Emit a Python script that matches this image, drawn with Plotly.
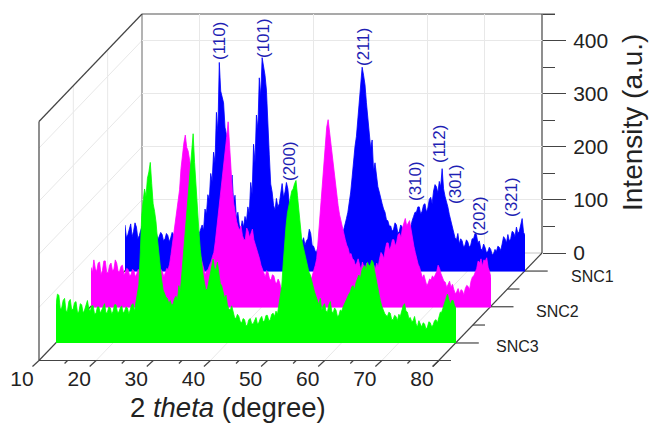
import plotly.graph_objects as go

snc1 = [88,64,70,82,90,66,76,92,84,62,68,78,86,64,72,94,92,66,70,80,
        68,76,72,60,66,74,70,58,62,72,68,56,64,74,70,60,62,70,66,58,
        64,72,68,58,60,70,66,56,62,72,68,60,72,80,88,78,118,108,145,136,
        185,170,225,205,300,262,394,340,330,318,272,258,215,226,170,182,130,144,100,112,
        88,78,96,84,104,94,122,110,168,146,240,205,295,268,365,330,403,385,370,342,
        262,220,165,150,125,116,138,122,128,146,166,140,150,168,156,128,132,118,110,96,
        84,92,70,62,56,64,50,58,62,80,72,50,48,40,36,46,52,38,42,50,
        50,40,46,58,56,44,62,52,54,70,68,56,66,78,86,100,112,130,150,178,
        210,236,255,290,320,358,385,370,352,318,285,262,232,248,190,205,178,160,150,136,
        128,118,112,98,96,86,86,76,80,92,88,72,76,88,84,70,74,86,84,72,
        88,96,104,112,112,122,122,108,114,126,128,112,120,136,140,128,152,164,160,148,
        170,160,194,156,142,134,122,108,96,84,72,64,60,72,52,62,58,46,50,60,
        56,46,50,62,62,72,70,54,58,44,40,52,46,36,38,46,42,32,34,42,
        38,48,46,40,52,66,62,54,70,58,62,76,74,66,84,72,76,92,100,74,
        69]
snc2 = [76,66,90,74,68,84,86,62,70,88,88,66,66,80,84,70,72,90,84,68,
        68,78,80,62,66,74,72,60,62,72,70,58,64,72,70,60,66,74,72,62,
        66,74,72,60,64,72,70,58,62,72,68,58,66,74,72,82,100,120,140,165,
        190,206,222,262,290,310,325,302,295,280,262,236,205,178,150,122,104,92,80,70,
        62,70,72,80,86,96,104,124,148,170,192,222,250,272,295,322,350,300,245,218,
        195,176,162,152,146,154,136,128,128,150,144,132,140,148,128,120,112,102,92,80,
        72,64,58,70,66,54,52,62,60,48,46,54,48,36,38,50,46,34,38,48,
        44,34,38,46,44,34,36,46,42,36,40,48,46,40,52,60,70,80,92,128,
        170,208,245,280,318,340,354,330,310,288,260,240,215,192,175,162,152,138,128,118,
        112,100,102,92,90,80,84,92,78,70,86,76,74,84,80,72,76,84,80,72,
        84,76,92,104,100,92,110,122,122,108,116,128,128,116,124,138,140,132,150,158,
        168,154,158,164,148,130,116,104,92,82,76,66,56,62,50,42,46,54,52,60,
        56,62,68,80,74,64,56,50,48,38,44,50,38,44,34,26,30,36,26,34,
        32,24,36,42,40,34,50,58,60,68,74,88,84,92,78,90,88,94,76,68,
        56]
snc3 = [72,92,90,64,66,80,84,60,60,78,82,62,64,76,78,58,58,74,72,56,
        62,74,80,64,60,70,70,54,56,68,68,56,62,70,74,56,58,68,66,54,
        60,72,72,58,58,66,70,56,60,68,66,54,62,72,74,60,78,94,110,170,
        240,268,290,276,310,322,340,300,262,248,228,196,168,144,118,100,92,86,84,74,
        80,70,74,84,88,80,108,96,128,160,205,236,268,290,318,352,394,340,290,246,
        212,176,150,128,112,100,102,116,130,146,158,138,140,152,125,112,108,92,84,90,
        72,64,62,70,58,48,46,54,50,40,38,46,44,32,34,44,46,36,36,44,
        48,36,38,46,50,40,42,52,52,42,44,54,56,50,60,54,72,84,106,148,
        190,220,245,262,272,286,290,300,306,278,250,224,195,182,170,156,145,134,128,116,
        108,96,88,80,72,84,62,70,74,60,58,72,78,60,56,66,62,50,52,62,
        60,68,74,82,88,92,96,106,108,100,114,122,128,120,136,142,146,138,152,146,
        146,156,152,136,120,104,92,80,70,62,56,52,50,58,56,44,44,52,50,42,
        54,50,62,70,74,60,58,46,48,40,42,50,36,30,42,34,30,38,36,26,
        30,40,38,30,34,42,44,38,50,58,58,68,74,84,92,84,72,80,80,70,
        66]
assert len(snc1) == len(snc2) == len(snc3) == 281
two_theta = [10 + 0.25 * i for i in range(281)]

series_names = ["SNC1", "SNC2", "SNC3"]
series_values = [snc1, snc2, snc3]
series_colors = ["#0000ff", "#ff00ff", "#00ff00"]
intensity_ticks = [0, 100, 200, 300, 400]
intensity_minor = [50, 150, 250, 350, 450]
angle_ticks = [10, 20, 30, 40, 50, 60, 70, 80]
angle_minor = [15, 25, 35, 45, 55, 65, 75]
grid_angles = [20, 40, 60, 70]
peak_labels = ["(110)", "(101)", "(200)", "(211)", "(310)", "(112)", "(301)", "(202)", "(321)"]

W, H = 649, 424
BACK_L, BACK_R, BACK_TOP, BACK_BASE = 142, 542, 14, 253
FRONT_L, FRONT_BASE = 39, 360.5
PX_PER_100 = (BACK_BASE - BACK_TOP) / 4.5


def fx(px):
    return px / W


def fy(py):
    return 1 - py / H


fig = go.Figure()

shapes = []


def seg(x0, y0, x1, y1, color="#444444", width=1.2):
    shapes.append(dict(type="line", xref="paper", yref="paper", layer="below",
                       x0=fx(x0), y0=fy(y0), x1=fx(x1), y1=fy(y1),
                       line=dict(color=color, width=width)))


GRID = "#e8e8e8"
depth_dx, depth_dy = BACK_L - FRONT_L, FRONT_BASE - BACK_BASE
# left wall
for v in intensity_ticks[1:]:
    py = BACK_BASE - v * PX_PER_100 / 100
    seg(BACK_L, py, FRONT_L, py + depth_dy, GRID, 1)
for f in (1 / 3, 2 / 3):
    px = FRONT_L + depth_dx * f
    seg(px, BACK_TOP + depth_dy * (1 - f), px, FRONT_BASE - depth_dy * f, GRID, 1)
# floor
sx = (BACK_R - BACK_L) / 70
for a in grid_angles:
    seg(FRONT_L + (a - 10) * sx, FRONT_BASE, BACK_L + (a - 10) * sx, BACK_BASE, GRID, 1)
seg(BACK_L, BACK_BASE, BACK_R, BACK_BASE, "#c4c4c4", 1)
# frame
seg(BACK_L, BACK_TOP, BACK_L, BACK_BASE, "#808080", 1.2)
seg(BACK_L, BACK_TOP, BACK_R + 13, BACK_TOP, "#555555", 1.2)
seg(BACK_R, BACK_TOP, BACK_R, BACK_BASE)
seg(BACK_L, BACK_TOP, FRONT_L, BACK_TOP + depth_dy)
seg(FRONT_L, BACK_TOP + depth_dy, FRONT_L, FRONT_BASE)
seg(BACK_L, BACK_BASE, FRONT_L, FRONT_BASE)
seg(FRONT_L, FRONT_BASE, 451, FRONT_BASE)
front_r = FRONT_L + 400
seg(front_r - 6, FRONT_BASE + 6, BACK_R, BACK_BASE)
# slanted angle ticks
for a in angle_ticks:
    px = FRONT_L + (a - 10) * sx
    seg(px, FRONT_BASE, px - 6.5, FRONT_BASE + 6)
for a in angle_minor:
    px = FRONT_L + (a - 10) * sx
    seg(px, FRONT_BASE, px - 3, FRONT_BASE + 3)
# depth ticks
for f, ln in ((0.163, 23), (0.33, 12), (0.5, 23), (0.665, 12), (0.832, 23)):
    seg(front_r + depth_dx * f, FRONT_BASE - depth_dy * f,
        front_r + depth_dx * f + ln, FRONT_BASE - depth_dy * f)

# back wall axes
layout = dict(
    width=W, height=H, margin=dict(l=0, r=0, t=0, b=0, autoexpand=False), autosize=False,
    paper_bgcolor="white", plot_bgcolor="rgba(0,0,0,0)", showlegend=False,
    font=dict(family="Liberation Sans", color="#222222"),
    shapes=shapes,
    xaxis=dict(domain=[fx(BACK_L), fx(BACK_R)], range=[10, 80], anchor="y",
               tickvals=grid_angles, showticklabels=False, ticks="",
               showgrid=True, gridcolor=GRID, gridwidth=1, zeroline=False, showline=False),
    yaxis=dict(domain=[fy(BACK_BASE), fy(BACK_TOP)], range=[0, 450], anchor="x", side="right",
               tickvals=intensity_ticks, ticks="outside", ticklen=23, tickwidth=1.2,
               tickcolor="#444444", tickfont=dict(size=21), ticklabelstandoff=3,
               minor=dict(tickvals=intensity_minor, ticks="outside", ticklen=12,
                          tickwidth=1.2, tickcolor="#444444", showgrid=False),
               showgrid=True, gridcolor=GRID, gridwidth=1, zeroline=False, showline=False),
)
fig.add_trace(go.Scatter(x=[10, 80], y=[0, 0], mode="lines", line=dict(width=0),
                         xaxis="x", yaxis="y", hoverinfo="skip"))

# one sheared subplot per sample
offsets = [(125, 271.7), (91, 307.7), (56, 343.0)]
for i, (name, vals, col, (ox, oy)) in enumerate(zip(series_names, series_values, series_colors, offsets)):
    n = i + 2
    layout[f"xaxis{n}"] = dict(domain=[fx(ox), fx(ox + 400)], range=[10, 80], visible=False,
                               anchor=f"y{n}")
    layout[f"yaxis{n}"] = dict(domain=[fy(oy), fy(oy - 4.5 * PX_PER_100)], range=[0, 450],
                               visible=False, anchor=f"x{n}")
    fig.add_trace(go.Scatter(x=two_theta, y=vals, name=name, mode="lines", fill="tozeroy",
                             fillcolor=col, line=dict(color=col, width=0.8),
                             xaxis=f"x{n}", yaxis=f"y{n}", cliponaxis=True))

# angle tick labels on their own shifted axis
layout["xaxis5"] = dict(domain=[fx(FRONT_L - 17), fx(FRONT_L + 400 - 17)], range=[10, 80],
                        anchor="free", position=fy(364), overlaying=None,
                        tickvals=angle_ticks, ticks="", showgrid=False, zeroline=False,
                        showline=False, tickfont=dict(size=21), side="bottom")
layout["yaxis5"] = dict(domain=[fy(364), fy(358)], visible=False, anchor="x5", range=[0, 1])
fig.add_trace(go.Scatter(x=[10, 80], y=[0, 0], mode="lines", line=dict(width=0),
                         xaxis="x5", yaxis="y5", hoverinfo="skip"))

ann = []


def text(s, px, py, size, color="#222222", angle=0, anchor="center"):
    ann.append(dict(text=s, x=fx(px), y=fy(py), xref="paper", yref="paper", showarrow=False,
                    xanchor=anchor, yanchor="middle", textangle=angle, borderpad=0,
                    font=dict(size=size, color=color, family="Liberation Sans")))


text("2 <i>theta</i> (degree)", 228, 407, 27.5)
text("Intensity (a.u.)", 632, 123, 28, angle=-90)
for name, px, py in zip(series_names, (570, 535, 495), (276, 311, 346)):
    text(name, px, py, 16, anchor="left")
peak_px = (219, 263, 289, 363, 416, 440, 455, 479, 512)
peak_py = (41, 38, 161, 47, 181, 144, 184, 216, 197)
for s, px, py in zip(peak_labels, peak_px, peak_py):
    text(s, px, py, 17, color="#1f1fb4", angle=-90)
layout["annotations"] = ann

fig.update_layout(**layout)
fig.write_html("out.html", config={"displayModeBar": False},
               post_script="document.body.style.margin='0';")
